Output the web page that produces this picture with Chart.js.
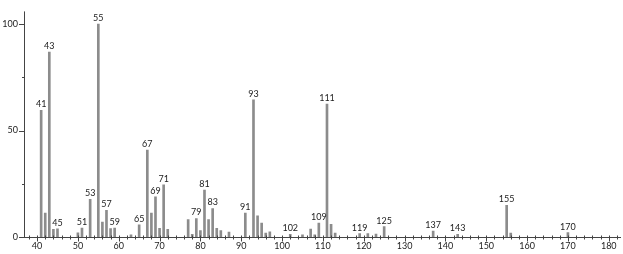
<!DOCTYPE html>
<html>
<head>
<meta charset="utf-8">
<script src="https://cdn.jsdelivr.net/npm/chart.js@4.4.1/dist/chart.umd.min.js"></script>
<style>
html,body{margin:0;padding:0;background:#fff;}
#wrap{width:623px;height:254px;}
</style>
</head>
<body>
<div id="wrap"><canvas id="c" width="623" height="254"></canvas></div>
<script>
const mz = [41,42,43,44,45,50,51,53,55,56,57,58,59,63,65,67,68,69,70,71,72,77,78,79,80,81,82,83,84,85,87,91,93,94,95,96,97,102,105,107,108,109,111,112,113,119,121,123,125,137,143,155,156,170];
const intensity = [59.5,11.2,86.9,3.6,3.8,2.0,4.2,17.7,100,7.0,12.5,4.0,4.2,1.0,5.7,40.8,11.2,18.9,4.1,24.5,3.6,8.2,1.3,8.7,3.0,22.1,8.2,13.4,4.1,3.0,2.3,11.2,64.4,10.0,6.5,1.9,2.4,1.2,1.0,3.7,1.0,6.5,62.5,5.9,1.9,1.6,1.6,1.4,4.9,2.8,1.3,14.9,1.8,2.1];
const labeledPeaks = [41,43,45,51,53,55,57,59,65,67,69,71,79,81,83,91,93,102,109,111,119,125,137,143,155,170];
const xTickLabels = [40,50,60,70,80,90,100,110,120,130,140,150,160,170,180];
const yTickLabels = [0,50,100];

const FONT = 'Lato, "DejaVu Sans", sans-serif';
const TEXT = '#222';
const AXIS = '#444';

const points = mz.map((m,i)=>({x:m, y:intensity[i]}));

const spectrumPlugin = {
  id:'spectrum',
  afterDatasetsDraw(chart){
    const ctx = chart.ctx;
    const xs = chart.scales.x, ys = chart.scales.y;
    const y0 = Math.round(ys.getPixelForValue(0));
    const ca = chart.chartArea;
    const lx = Math.round(ca.left);
    ctx.save();
    ctx.strokeStyle = AXIS;
    ctx.lineWidth = 1;
    ctx.beginPath();
    ctx.moveTo(ca.left, y0+0.5);
    ctx.lineTo(ca.right, y0+0.5);
    ctx.moveTo(lx+0.5, ca.top);
    ctx.lineTo(lx+0.5, y0+0.5);
    for(let v=38; v<=182; v+=2){
      const px = Math.round(xs.getPixelForValue(v))+0.5;
      const major = v%10===0;
      ctx.moveTo(px, y0-1.5);
      ctx.lineTo(px, y0+(major?4.5:2.5));
    }
    for(let v=0; v<=100; v+=25){
      const py = Math.round(ys.getPixelForValue(v))+0.5;
      const major = v%50===0;
      ctx.moveTo(lx-(major?5:2), py);
      ctx.lineTo(lx+1, py);
    }
    ctx.stroke();
    ctx.fillStyle = TEXT;
    ctx.font = '9px ' + FONT;
    ctx.textAlign = 'center';
    ctx.textBaseline = 'alphabetic';
    labeledPeaks.forEach(m=>{
      const i = mz.indexOf(m);
      if(i<0) return;
      const px = xs.getPixelForValue(m);
      const py = ys.getPixelForValue(intensity[i]);
      ctx.fillText(String(m), px, py-3);
    });
    ctx.restore();
  }
};

new Chart(document.getElementById('c'), {
  type:'bar',
  data:{
    datasets:[{
      data: points,
      backgroundColor:'#8c8c8c',
      borderWidth:0,
      barThickness:2
    }]
  },
  options:{
    responsive:false,
    animation:false,
    layout:{padding:{left:0,right:2,top:0,bottom:0}},
    plugins:{legend:{display:false},tooltip:{enabled:false}},
    scales:{
      x:{
        type:'linear',
        offset:false,
        min:36.8, max:183,
        grid:{display:false, drawTicks:false, offset:false},
        border:{display:false},
        afterFit(s){ s.height = 17; },
        afterBuildTicks(s){ s.ticks = xTickLabels.map(v=>({value:v})); },
        ticks:{
          autoSkip:false, maxRotation:0, padding:4,
          color:TEXT, font:{family:FONT,size:9},
          callback:(v)=> String(v)
        }
      },
      y:{
        min:0, max:106,
        grid:{display:false, drawTicks:false},
        border:{display:false},
        afterFit(s){ s.width = 24; },
        afterBuildTicks(s){ s.ticks = yTickLabels.map(v=>({value:v})); },
        ticks:{
          autoSkip:false, padding:6,
          color:TEXT, font:{family:FONT,size:9},
          callback:(v)=> String(v)
        }
      }
    }
  },
  plugins:[spectrumPlugin]
});
</script>
</body>
</html>
